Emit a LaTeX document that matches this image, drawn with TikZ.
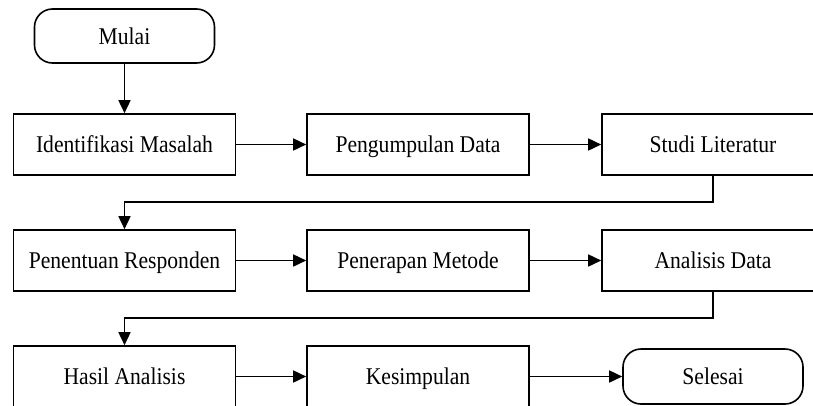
\documentclass[tikz,border=0pt]{standalone}
\usepackage{fontspec}
\setmainfont{Liberation Serif}[FakeStretch=0.9]
\usetikzlibrary{arrows.meta}

\tikzset{
  proses/.style={draw, line width=1.6pt, minimum width=222pt, minimum height=61pt, inner sep=0pt,
    text height=16pt, text depth=0pt},
  terminal/.style={proses, rounded corners=18pt, minimum width=180pt, minimum height=54pt},
  alur/.style={->, line width=1.6pt},
}

\begin{document}
\begin{tikzpicture}[x=1pt, y=-1pt, >={Triangle[length=13pt,width=12pt]}, font=\fontsize{24}{28}\selectfont]
    \useasboundingbox (0,0) rectangle (813,405);
    \clip (0,0) rectangle (813,405);

    \coordinate (p00) at (124.5, 36);
    \coordinate (p11) at (124.5,144.5);
    \coordinate (p12) at (418  ,144.5);
    \coordinate (p13) at (713  ,144.5);
    \coordinate (p21) at (124.5,260.5);
    \coordinate (p22) at (418  ,260.5);
    \coordinate (p23) at (713  ,260.5);
    \coordinate (p31) at (124.5,376.5);
    \coordinate (p32) at (418  ,376.5);
    \coordinate (p33) at (713  ,376.5);

    \coordinate (k1) at (713,202);
    \coordinate (k2) at (713,318);

    \node[terminal] (mulai) at (p00) {Mulai};

    \node[proses] (identifikasi) at (p11) {Identifikasi Masalah};
    \node[proses] (pengumpulan)  at (p12) {Pengumpulan Data};
    \node[proses] (studi)        at (p13) {Studi Literatur};

    \node[proses] (penentuan)    at (p21) {Penentuan Responden};
    \node[proses] (penerapan)    at (p22) {Penerapan Metode};
    \node[proses] (analisis)     at (p23) {Analisis Data};

    \node[proses] (hasil)        at (p31) {Hasil Analisis};
    \node[proses] (kesimpulan)   at (p32) {Kesimpulan};
    \node[terminal, minimum height=55pt] (selesai) at (p33) {Selesai};

    \draw[alur] (mulai) -- (identifikasi);
    \draw[alur] (identifikasi) -- (pengumpulan);
    \draw[alur] (pengumpulan) -- (studi);
    \draw[alur] (studi.south) -- (k1) -| (penentuan.north);

    \draw[alur] (penentuan) -- (penerapan);
    \draw[alur] (penerapan) -- (analisis);
    \draw[alur] (analisis.south) -- (k2) -| (hasil.north);

    \draw[alur] (hasil) -- (kesimpulan);
    \draw[alur] (kesimpulan) -- (selesai);

\end{tikzpicture}
\end{document}
